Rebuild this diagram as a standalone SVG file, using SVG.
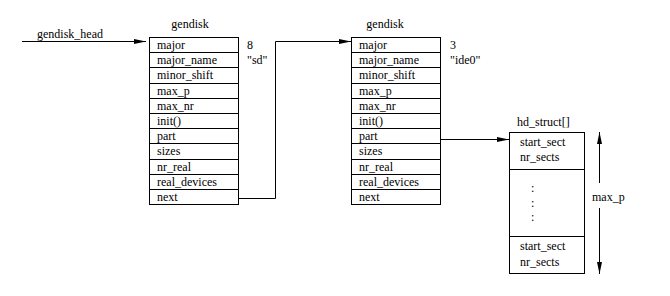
<svg xmlns="http://www.w3.org/2000/svg" width="670" height="296" viewBox="0 0 670 296">
<style>
text{font-family:"Liberation Serif","Times New Roman",serif;font-size:12px;fill:#000}
.b{fill:#fff;stroke:#000;stroke-width:1}
.l{fill:none;stroke:#000;stroke-width:1}
.c{text-anchor:middle}
</style>
<defs>
<marker id="ah" markerWidth="12" markerHeight="6" refX="12" refY="3" orient="auto" markerUnits="userSpaceOnUse">
<path d="M0,0.5 L12,3 L0,5.5 Z" fill="#000"/>
</marker>
</defs>
<rect width="670" height="296" fill="#fff"/>
<g id="head-label"><text x="37" y="38">gendisk_head</text></g>
<g id="gendisk1">
<text class="c" x="190" y="28">gendisk</text>
<rect class="b" x="149.5" y="37.5" width="89" height="167"/>
<path class="l" d="M149.5,52.5H238.5M149.5,67.5H238.5M149.5,83.5H238.5M149.5,98.5H238.5M149.5,113.5H238.5M149.5,128.5H238.5M149.5,143.5H238.5M149.5,159.5H238.5M149.5,174.5H238.5M149.5,189.5H238.5"/>
<text x="157" y="49">major</text>
<text x="157" y="64">major_name</text>
<text x="157" y="79">minor_shift</text>
<text x="157" y="95">max_p</text>
<text x="157" y="110">max_nr</text>
<text x="157" y="125">init()</text>
<text x="157" y="140">part</text>
<text x="157" y="155">sizes</text>
<text x="157" y="171">nr_real</text>
<text x="157" y="186">real_devices</text>
<text x="157" y="201">next</text>
<text x="247" y="49">8</text>
<text x="247" y="64">"sd"</text>
</g>
<g id="gendisk2">
<text class="c" x="385" y="28">gendisk</text>
<rect class="b" x="351.5" y="37.5" width="89" height="167"/>
<path class="l" d="M351.5,52.5H440.5M351.5,67.5H440.5M351.5,83.5H440.5M351.5,98.5H440.5M351.5,113.5H440.5M351.5,128.5H440.5M351.5,143.5H440.5M351.5,159.5H440.5M351.5,174.5H440.5M351.5,189.5H440.5"/>
<text x="359" y="49">major</text>
<text x="359" y="64">major_name</text>
<text x="359" y="79">minor_shift</text>
<text x="359" y="95">max_p</text>
<text x="359" y="110">max_nr</text>
<text x="359" y="125">init()</text>
<text x="359" y="140">part</text>
<text x="359" y="155">sizes</text>
<text x="359" y="171">nr_real</text>
<text x="359" y="186">real_devices</text>
<text x="359" y="201">next</text>
<text x="450" y="49">3</text>
<text x="450" y="64">"ide0"</text>
</g>
<g id="hd_struct">
<text x="517" y="126">hd_struct[]</text>
<rect class="b" x="509.5" y="132.5" width="75" height="141"/>
<path class="l" d="M509.5,169.5H584.5M509.5,236.5H584.5"/>
<text x="520" y="146">start_sect</text>
<text x="520" y="161">nr_sects</text>
<text x="531" y="192">:</text>
<text x="531" y="207">:</text>
<text x="531" y="221">:</text>
<text x="520" y="250">start_sect</text>
<text x="520" y="266">nr_sects</text>
</g>
<g id="maxp-label"><text x="592" y="201">max_p</text></g>
<g id="connectors">
<path class="l" d="M22,41.5H146" marker-end="url(#ah)"/>
<path class="l" d="M238.5,198.5H275.5V41.5H351" marker-end="url(#ah)"/>
<path class="l" d="M440.5,139.5H509" marker-end="url(#ah)"/>
<path class="l" d="M599.5,183V132" marker-end="url(#ah)"/>
<path class="l" d="M599.5,208V274" marker-end="url(#ah)"/>
</g>
</svg>
